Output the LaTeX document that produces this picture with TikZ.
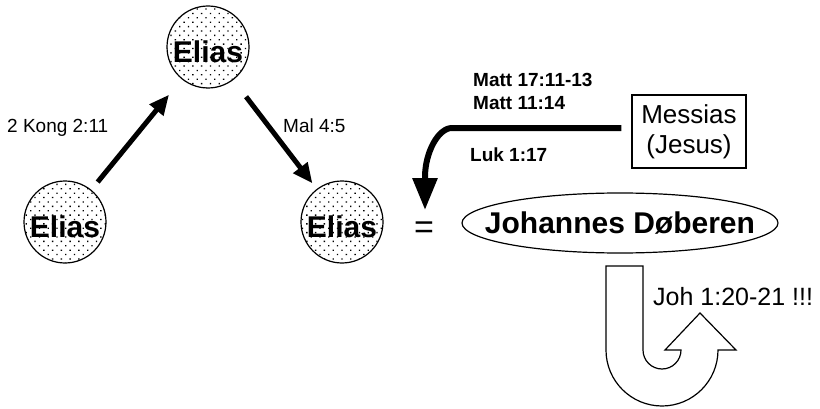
\documentclass[tikz,border=0pt]{standalone}
\usepackage{fontspec}
\setmainfont{Liberation Sans}
\usetikzlibrary{arrows.meta,shapes.geometric,patterns.meta}
\begin{document}
\begin{tikzpicture}[x=1pt,y=1pt,
  elias/.style={circle, draw, line width=1.2pt, minimum size=82pt, inner sep=0pt,
    pattern={Dots[radius=0.95pt,distance=6.2pt,angle=45]},
    font=\fontsize{30}{36}\selectfont\bfseries, text height=31pt, text depth=0pt},
  bigarrow/.style={line width=5pt, -{Triangle[length=20pt,width=17pt]}},
  ref/.style={font=\fontsize{19}{22}\selectfont, inner sep=0pt, anchor=west},
  refb/.style={ref, font=\fontsize{19}{22}\selectfont\bfseries},
  outline/.style={draw, line width=1.2pt},
]
\useasboundingbox (0,0) rectangle (820,408);
\fill[white] (0,0) rectangle (820,408);

% Elias circles
\node[elias] (E1) at (208,361) {Elias};
\node[elias] (E2) at (65,186) {Elias};
\node[elias] (E3) at (342,186) {Elias};

\draw[bigarrow, shorten <=10pt, shorten >=20pt] (E2) -- (E1);
\draw[bigarrow, shorten <=21pt, shorten >=7pt] (E1) -- (E3);

\node[ref] (kong) at (7,280) {2 Kong 2:11};
\node[ref] (mal) at (283,282) {Mal 4:5};

% Messias
\node[outline, minimum width=114pt, minimum height=73pt, inner sep=0pt, align=center,
  font=\fontsize{26}{30}\selectfont] (M) at (689,276.5) {Messias\\(Jesus)};
\node[refb] (mt1) at (473,328) {Matt 17:11-13};
\node[refb] (mt2) at (473,305) {Matt 11:14};
\node[refb] (luk) at (470,253) {Luk 1:17};

\node[font=\fontsize{34}{40}\selectfont, inner sep=0pt] (eq) at (424,178) {=};
\coordinate (lukTip) at (425,198);

\draw[line width=6pt, line join=round, -{Triangle[length=32pt,width=24pt]}]
  ([xshift=-10pt,yshift=3.5pt]M.west) -- (452,280)
  .. controls (438,280) and (425,255) .. (425,231) -- (lukTip);

% Johannes
\node[ellipse, outline, minimum width=316pt, minimum height=60pt,
  inner xsep=-40pt, inner ysep=0pt,
  font=\fontsize{30}{36}\selectfont\bfseries] (J) at (620,185) {Johannes Døberen};

% U-turn arrow
\draw[line width=1.2pt, fill=white, line join=miter]
  (606,142) -- (643,142) -- (643,58) arc[start angle=180, end angle=360, radius=19pt]
  -- (665,58) -- (700,95) -- (736,58) -- (718,58)
  arc[start angle=0, end angle=-180, radius=56pt] -- cycle;

\node[font=\fontsize{25}{30}\selectfont, anchor=west, inner sep=0pt] (joh) at (653,111) {Joh 1:20-21 !!!};
\end{tikzpicture}
\end{document}
